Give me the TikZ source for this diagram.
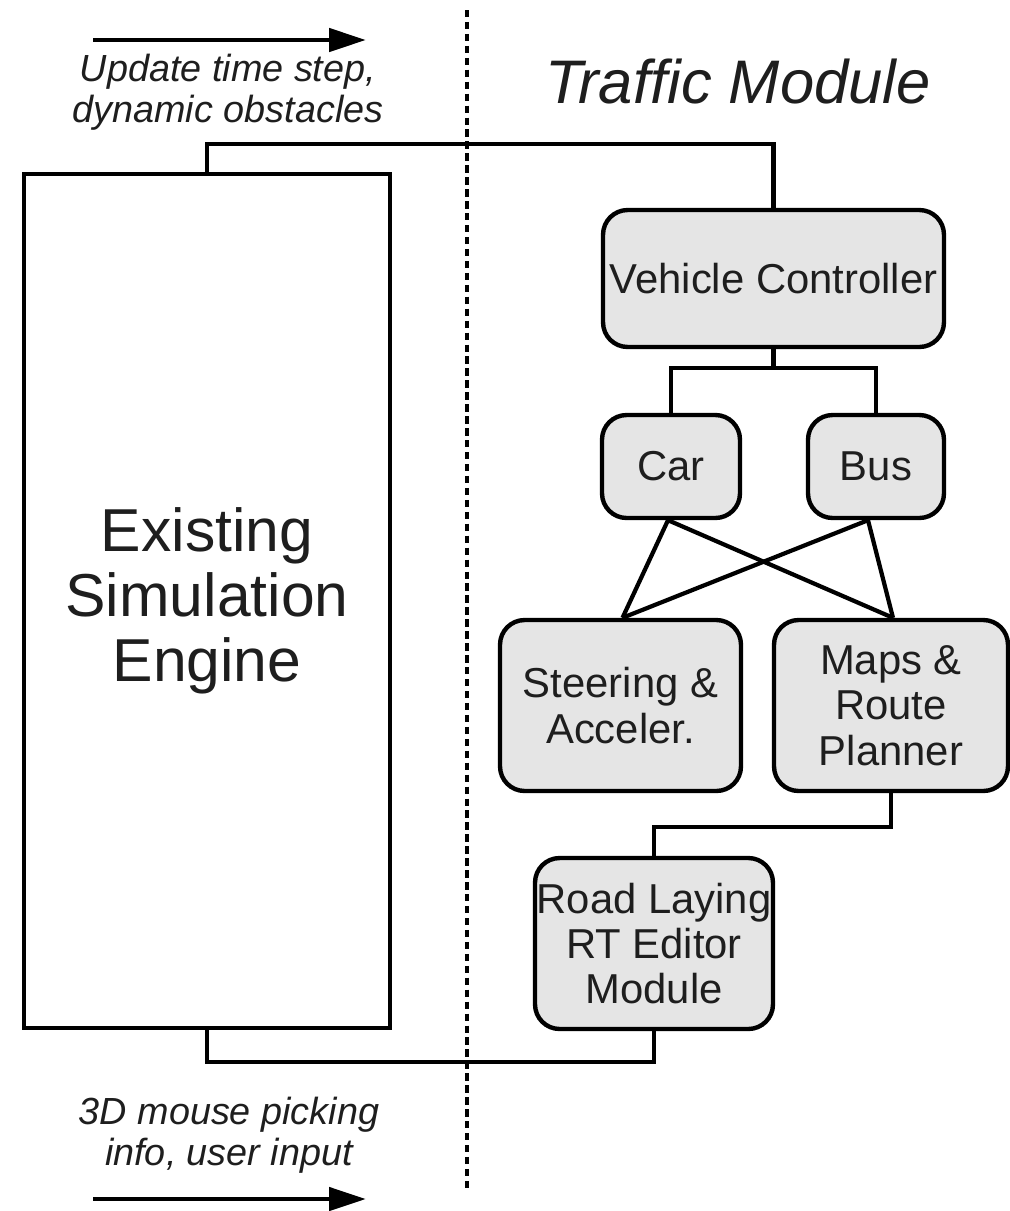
\documentclass[tikz,border=0pt]{standalone}
\usepackage{fontspec}
\setmainfont{Liberation Sans}
\usetikzlibrary{arrows.meta,calc}
\definecolor{txt}{HTML}{1E1E1E}
\definecolor{boxfill}{HTML}{E5E5E5}
\begin{document}
\begin{tikzpicture}[x=0.02cm,y=-0.02cm,
  every node/.style={text=txt},
  mod/.style={draw=black,line width=2.5pt,fill=boxfill,rounded corners=14pt,inner sep=0pt,align=center,font=\fontsize{23.8}{25.8}\selectfont},
  engine/.style={draw=black,line width=2.5pt,fill=white,inner sep=0pt,align=center,font=\fontsize{34.5}{37}\selectfont},
  link/.style={draw=black,line width=2.4pt},
  flow/.style={draw=black,line width=2.8pt,-{Triangle[length=21pt,width=13pt]}},
  lbl/.style={align=center,font=\fontsize{21.5}{22.9}\selectfont\itshape},
  sep/.style={draw=black,line width=2.2pt,dash pattern=on 4.2pt off 2.6pt}]
\useasboundingbox (0,0) rectangle (1010,1211);

% separator
\coordinate (d1) at (467,10);
\coordinate (d2) at (467,1192);
\draw[sep] (d1) -- (d2);

% title
\node[font=\fontsize{35}{40}\selectfont\itshape,anchor=base] (title) at (738,103) {Traffic Module};

% engine
\node[engine,minimum width=7.32cm,minimum height=17.08cm] (exist) at (207,601) {Existing\\Simulation\\Engine};

% modules
\node[mod,minimum width=6.82cm,minimum height=2.74cm] (vc) at (773.5,278.5) {Vehicle Controller};
\node[mod,minimum width=2.76cm,minimum height=2.06cm] (car) at (671,466.5) {Car};
\node[mod,minimum width=2.72cm,minimum height=2.06cm] (bus) at (876,466.5) {Bus};
\node[mod,minimum width=4.82cm,minimum height=3.42cm] (steer) at (620.5,705.5) {Steering \&\\Acceler.};
\node[mod,minimum width=4.68cm,minimum height=3.42cm] (maps) at (891,705.5) {Maps \&\\Route\\Planner};
\node[mod,minimum width=4.76cm,minimum height=3.42cm] (road) at (654,943.5) {Road Laying\\RT Editor\\Module};

% connectors
\draw[link] (exist.north) -- ++(0,-28) -| (vc.north);
\draw[link] (vc.south) -- ++(0,19) coordinate (vcj);
\draw[link] (car.north) |- (vcj) -| (bus.north);
\draw[link] ($(car.south)+(-3,0)$) -- ($(steer.north)+(2,0)$);
\draw[link] ($(car.south)+(-3,0)$) -- ($(maps.north)+(2,0)$);
\draw[link] ($(bus.south)+(-8,0)$) -- ($(steer.north)+(2,0)$);
\draw[link] ($(bus.south)+(-8,0)$) -- ($(maps.north)+(2,0)$);
\draw[link] (maps.south) -- ++(0,34) -| (road.north);
\draw[link] (road.south) -- ++(0,31) -| (exist.south);

% flow arrows and labels
\coordinate (a1s) at (93,40);
\coordinate (a1e) at (366,40);
\draw[flow] (a1s) -- (a1e);
\node[lbl,anchor=base] (l1) at (228,122) {Update time step,\\dynamic obstacles};

\coordinate (a2s) at (93,1199);
\coordinate (a2e) at (366,1199);
\draw[flow] (a2s) -- (a2e);
\node[lbl,anchor=base] (l2) at (229,1165) {3D mouse picking\\info, user input};
\end{tikzpicture}
\end{document}
